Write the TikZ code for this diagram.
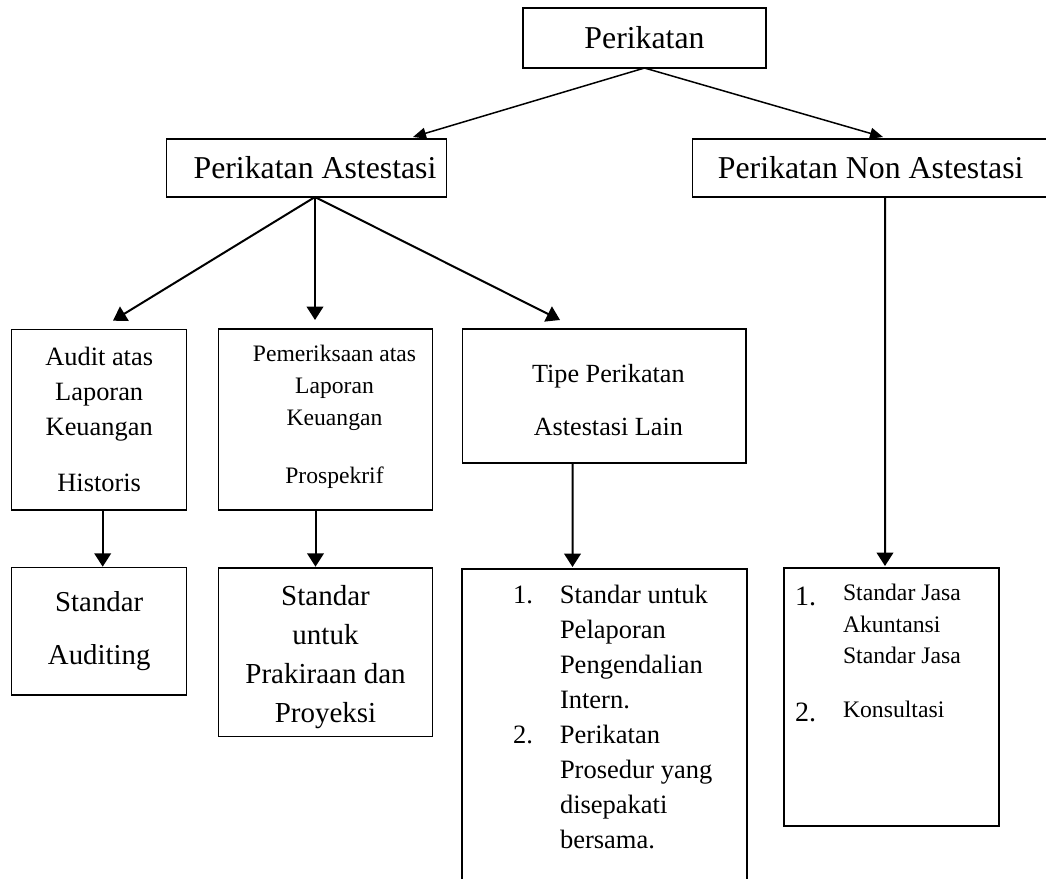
\documentclass[tikz,border=0pt]{standalone}
\usepackage{fontspec}
\setmainfont{Liberation Serif}
\usepackage{tikz}
\usetikzlibrary{arrows.meta}
\tikzstyle{Arrow}=[-{Triangle[length=6.7pt,width=8.3pt]}, line width=1pt]
\tikzstyle{ThinArrow}=[-{Triangle[length=6.5pt,width=5.5pt]}, line width=0.75pt]
\newcommand{\Inside}[4]{\parbox[c][#2][t]{#1}{\vspace*{#3}#4}}
\newcommand{\Num}[1]{{\fontsize{14}{14}\selectfont\raisebox{-2.2pt}{#1}}}

\begin{document}
\begin{tikzpicture}[
  x=0.5pt, y=-0.5pt,
  Box/.style={draw, line width=0.7pt, inner sep=0, outer sep=0},
  Head/.style={Box, minimum height=29pt, font=\fontsize{15.9}{19}\selectfont}
]
\useasboundingbox (0,0) rectangle (1046,879);
\clip (0,0) rectangle (1046,879);

\node[Head, minimum width=121.5pt, minimum height=30pt] (root) at (644.5,38) {Perikatan};
\node[Head, minimum width=140pt] (att) at (306.7,168) {\hspace*{8.3pt}Perikatan Astestasi};
\node[Head, minimum width=178pt] (nonatt) at (870.7,168) {Perikatan Non Astestasi};

\node[Box, anchor=north west] (audit) at (11.7,329.3) {\Inside{87.5pt}{90.35pt}{8.85pt}{\centering
  \fontsize{13.2}{17.5}\selectfont Audit atas\\ Laporan\\ Keuangan\\[10.8pt] Historis}};
\node[Box, anchor=north west] (periksa) at (218.3,329) {\Inside{107.2pt}{90.5pt}{8.3pt}{\centering
  \leftskip=9pt plus 1fil\fontsize{11.8}{15.8}\selectfont Pemeriksaan atas\\ Laporan\\ Keuangan\\[13.3pt] Prospekrif}};
\node[Box, anchor=north west] (tipe) at (462.7,329) {\Inside{141.65pt}{67pt}{17.9pt}{\centering
  \leftskip=4pt plus 1fil\fontsize{13.1}{26.2}\selectfont Tipe Perikatan\\ Astestasi Lain}};

\node[Box, anchor=north west] (sa) at (11.7,567.7) {\Inside{87.5pt}{63.65pt}{11.7pt}{\centering
  \fontsize{14.4}{26.7}\selectfont Standar\\ Auditing}};
\node[Box, anchor=north west] (sp) at (218.3,568) {\Inside{107.2pt}{84.35pt}{8.6pt}{\centering
  \fontsize{14.5}{19.45}\selectfont Standar\\ untuk\\ Prakiraan dan\\ Proyeksi}};
\node[Box, anchor=north west] (lain) at (462,569) {\Inside{142.5pt}{168pt}{7.95pt}{\raggedright
  \leftskip=49pt\fontsize{13.25}{17.5}\selectfont
  \leavevmode\llap{\makebox[23.5pt][l]{1.}}Standar untuk\\ Pelaporan\\ Pengendalian\\ Intern.\\
  \leavevmode\llap{\makebox[23.5pt][l]{2.}}Perikatan\\ Prosedur yang\\ disepakati\\ bersama.}};
\node[Box, anchor=north west] (non) at (784,568) {\Inside{107.5pt}{129pt}{8.25pt}{\raggedright
  \leftskip=29.5pt\fontsize{11.85}{15.65}\selectfont
  \leavevmode\llap{\makebox[24pt][l]{\Num{1.}}}Standar Jasa\\ Akuntansi\\ Standar Jasa\\[11.35pt]
  \leavevmode\llap{\makebox[24pt][l]{\Num{2.}}}Konsultasi}};

\draw[ThinArrow] (root.south) -- ([shift={(106.3,-2)}]att.north);
\draw[ThinArrow] (root.south) -- ([shift={(12.3,-2)}]nonatt.north);

\coordinate (attOut) at ([shift={(8.3,0)}]att.south);
\draw[Arrow] (attOut) -- ([shift={(13.8,-8.6)}]audit.north);
\draw[Arrow] (attOut) -- ([shift={(-10.5,-9)}]periksa.north);
\draw[Arrow] (attOut) -- ([shift={(-44.3,-9)}]tipe.north);

\draw[Arrow] ([shift={(3.5,0)}]audit.south) -- ([shift={(3.5,-1)}]sa.north);
\draw[Arrow] ([shift={(-10,0)}]periksa.south) -- ([shift={(-10,-1.3)}]sp.north);
\draw[Arrow] ([shift={(-31.7,0)}]tipe.south) -- ([shift={(-32,-2)}]lain.north);
\draw[Arrow] ([shift={(14.3,0)}]nonatt.south) -- ([shift={(-6.5,-2)}]non.north);

\end{tikzpicture}
\end{document}
